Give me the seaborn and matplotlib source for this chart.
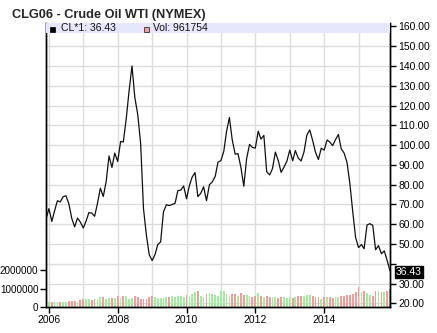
import matplotlib
matplotlib.use('Agg')
import matplotlib.pyplot as plt
import matplotlib.transforms as mtransforms
from matplotlib.patches import Rectangle
import seaborn as sns
import pandas as pd
import numpy as np

sns.set_theme(style='white')
plt.rcParams['font.family'] = ['Liberation Sans', 'DejaVu Sans']

# ---------------- data ----------------
title = "CLG06 - Crude Oil WTI (NYMEX)"
start_month = '2005-12-01'
prices = [
    62.5,
    67.92, 61.41, 66.63, 71.88, 71.29, 73.93, 74.40, 70.26, 62.91, 58.73, 63.13, 61.05,
    58.14, 61.79, 65.87, 65.71, 64.01, 70.68, 78.21, 74.04, 81.66, 94.53, 88.71, 95.98,
    91.75, 101.84, 101.58, 113.46, 127.35, 140.00, 124.08, 115.46, 100.64, 67.81, 54.43, 44.60,
    41.68, 44.76, 49.66, 51.12, 66.31, 69.89, 69.45, 69.96, 70.61, 77.00, 77.28, 79.36,
    72.89, 79.66, 83.76, 86.15, 73.97, 75.63, 78.95, 71.92, 79.97, 81.43, 84.11, 91.38,
    92.19, 96.97, 106.72, 113.93, 102.70, 95.42, 95.70, 88.81, 79.20, 93.19, 100.36, 98.83,
    98.48, 107.07, 103.02, 104.87, 86.53, 84.96, 88.06, 96.47, 92.19, 86.24, 88.91, 91.82,
    97.49, 92.05, 97.23, 93.46, 91.97, 96.56, 105.03, 107.65, 102.33, 96.38, 92.72, 98.42,
    97.49, 102.59, 101.58, 99.74, 102.71, 105.37, 98.17, 95.96, 91.16, 80.54, 66.15, 53.27,
    48.24, 49.76, 47.60, 59.63, 60.30, 59.47, 47.12, 49.20, 45.09, 46.59, 41.65, 36.43,
]
volumes_m = [
    0.27,
    0.27, 0.27, 0.26, 0.27, 0.26, 0.25, 0.27, 0.32, 0.34, 0.33, 0.30, 0.40,
    0.46, 0.42, 0.45, 0.40, 0.45, 0.42, 0.52, 0.52, 0.42, 0.47, 0.50, 0.48,
    0.62, 0.50, 0.62, 0.58, 0.45, 0.50, 0.60, 0.52, 0.46, 0.45, 0.44, 0.55,
    0.58, 0.55, 0.50, 0.50, 0.50, 0.55, 0.55, 0.58, 0.55, 0.60, 0.58, 0.55,
    0.65, 0.60, 0.72, 0.80, 0.85, 0.60, 0.55, 0.72, 0.74, 0.70, 0.66, 0.60,
    0.88, 0.88, 0.72, 0.60, 0.70, 0.70, 0.62, 0.75, 0.68, 0.65, 0.60, 0.52,
    0.62, 0.75, 0.60, 0.55, 0.58, 0.55, 0.56, 0.52, 0.50, 0.56, 0.52, 0.48,
    0.55, 0.50, 0.56, 0.58, 0.60, 0.62, 0.65, 0.65, 0.60, 0.55, 0.52, 0.45,
    0.52, 0.52, 0.52, 0.50, 0.55, 0.52, 0.60, 0.62, 0.68, 0.65, 0.72, 0.80,
    1.10, 0.82, 0.85, 0.75, 0.66, 0.62, 0.90, 0.85, 0.80, 0.82, 0.85, 0.96,
]
price_ticks = list(range(20, 161, 10))
volume_ticks = [0, 1000000, 2000000]
year_labels = [2006, 2008, 2010, 2012, 2014]
grid_years = list(range(2006, 2016))
last_label = "36.43"
legend_price = "CL*1: 36.43"
legend_vol = "Vol: 961754"

dates = pd.date_range(start_month, periods=len(prices), freq='MS')
df = pd.DataFrame({'date': dates, 'price': prices,
                   'volume': np.array(volumes_m) * 1e6})
df['up'] = df['price'].diff().fillna(1.0) >= 0

GREEN = '#9ef09e'
RED = '#f29c9c'
GRID = '#dcdcdc'

W, H = 437, 333
fig = plt.figure(figsize=(W / 100, H / 100), dpi=100)
fig.patch.set_facecolor('white')
ax_v = fig.add_axes([46 / W, 1 - 307 / H, 344 / W, 284 / H])
ax_p = ax_v.twinx()

# volume bars (left axis)
bar_colors = [GREEN if u else RED for u in df['up']]
ax_v.bar(df['date'], df['volume'], width=19, color=bar_colors, zorder=2, linewidth=0)
ax_v.set_ylim(0, 15.5e6)
ax_v.set_yticks(volume_ticks)
ax_v.set_yticklabels([str(v) for v in volume_ticks])

# price line (right axis)
sns.lineplot(data=df, x='date', y='price', ax=ax_p, color='#111111', linewidth=0.9)
ax_p.set_ylim(18.2, 161.7)
ax_p.set_yticks(price_ticks)
# the 40.00 label is hidden behind the last-value box in the original
ax_p.set_yticklabels(['' if abs(t - prices[-1]) < 6 else f"{t:.2f}" for t in price_ticks])
ax_p.set_xlabel('')
ax_p.set_ylabel('')
ax_v.set_xlabel('')
ax_v.set_ylabel('')

ax_v.set_xlim(dates[0], dates[-1])
ax_v.set_xticks([pd.Timestamp(f"{y}-01-01") for y in year_labels])
ax_v.set_xticklabels([str(y) for y in year_labels])

# gridlines drawn on the bottom axes (behind bars)
for y in grid_years:
    ax_v.axvline(pd.Timestamp(f"{y}-01-01"), color=GRID, lw=1.0, zorder=0)
blend = mtransforms.blended_transform_factory(ax_v.transAxes, ax_p.transData)
for t in price_ticks:
    ax_v.plot([0, 1], [t, t], transform=blend, color=GRID, lw=1.0, zorder=0)

# ticks / spines
for a in (ax_v, ax_p):
    a.tick_params(axis='both', direction='out', length=4, width=1, color='black',
                  labelsize=7.5, labelcolor='black', pad=2)
    for s in a.spines.values():
        s.set_color('black')
        s.set_linewidth(1.0)
    a.spines['top'].set_visible(False)
ax_v.tick_params(axis='y', left=True, right=False, labelsize=7.1, pad=1.5)
ax_v.tick_params(axis='x', bottom=True)
ax_p.tick_params(axis='y', right=True, left=False)

# legend band
band_h = 10 / 284
ax_p.add_patch(Rectangle((0, 1 - band_h), 1, band_h, transform=ax_p.transAxes,
                         facecolor='#e6e6fc', edgecolor='none', zorder=5, clip_on=False))
fig.add_artist(Rectangle((50 / W, 1 - 31.5 / H), 4.5 / W, 4.5 / H,
                         transform=fig.transFigure, facecolor='black', edgecolor='black', lw=0.5))
fig.add_artist(Rectangle((144 / W, 1 - 31.5 / H), 4.5 / W, 4.5 / H,
                         transform=fig.transFigure, facecolor=RED, edgecolor='#333333', lw=0.6))
fig.text(61 / W, 1 - 28.3 / H, legend_price, fontsize=7.5, va='center', ha='left', color='#111111')
fig.text(153 / W, 1 - 28.3 / H, legend_vol, fontsize=7.5, va='center', ha='left', color='#111111')

# title
fig.text(12 / W, 1 - 18 / H, title, fontsize=9.2, fontweight='bold', va='baseline', ha='left')

# last value marker
last_blend = mtransforms.blended_transform_factory(ax_p.transAxes, ax_p.transData)
ax_p.annotate(last_label, xy=(1, prices[-1]), xycoords=last_blend,
              xytext=(6, -1), textcoords='offset pixels', va='center', ha='left',
              fontsize=7.5, color='white', annotation_clip=False,
              bbox=dict(boxstyle='square,pad=0.08', facecolor='black', edgecolor='black'))

fig.savefig('out.png', dpi=100)
